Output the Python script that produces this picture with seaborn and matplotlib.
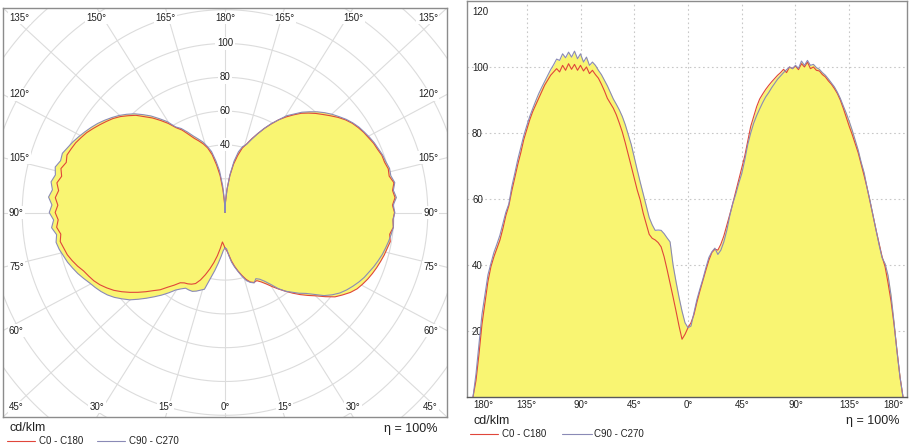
import numpy as np
import matplotlib
matplotlib.use("Agg")
import matplotlib.pyplot as plt
import seaborn as sns
from matplotlib.lines import Line2D

# ---------------- data (cd/klm vs gamma angle) ----------------
gamma = np.arange(0, 180.1, 2.5)

c0 = [21, 22.5, 25, 28.8, 32.2, 35.4, 38.5, 41.5, 43.8, 44.8,
      44.5, 46.3, 48.8, 52, 55.3, 58.7, 62.3, 65.9, 69.4, 73,
      77.5, 82, 85, 88, 90.3, 91.8, 93.2, 94.4, 95.5, 96.5,
      97.5, 98.3, 99.3, 98.3, 100, 99.5, 100.3, 99.2, 101, 100,
      101.5, 99.5, 100, 99, 98.8, 97.7, 97, 95.8, 94.8, 93.5,
      92, 90, 87.5, 84.7, 82, 79.5, 76.8, 74, 70.5, 67,
      63.3, 59, 54.8, 50.5, 46.5, 42.5, 39.5, 34.5, 29, 22,
      14, 6, 0]

c180 = [21, 19, 17.5, 21.5, 26, 30.3, 34.5, 38.6, 42.5, 45.5,
        46.8, 47.6, 48.1, 49.3, 52.5, 55.7, 59.7, 62.7, 66.3, 69.9,
        73.5, 77, 80.3, 83, 85.5, 87.5, 89, 90.5, 92.8, 94.8,
        96.6, 97.7, 99, 98, 100, 98.8, 100.5, 99, 100.8, 99.3,
        101, 99, 100.5, 98.5, 99.5, 98.5, 97.5, 96, 94.5, 92.5,
        90.5, 88.5, 86.5, 84, 81, 78, 74, 70.5, 66.5, 62.5,
        58, 55, 51, 47.5, 45, 42.5, 39.5, 35, 28.5, 22,
        13, 5, 0]

c90 = [21, 21.5, 25.5, 29.6, 32.8, 35.8, 39.2, 42.3, 44, 45.1,
       43.2, 44.5, 47, 50.5, 55, 58.7, 61.5, 64.8, 67.7, 71.8,
       76.5, 80, 83, 85.3, 87.3, 89.2, 90.9, 92.2, 93.7, 95,
       96.3, 97.3, 98.3, 99.2, 100, 99.5, 100.5, 99.6, 101.8, 100.5,
       102, 100.5, 100.8, 99.8, 99.3, 98.3, 97.5, 96.4, 95.2, 94,
       92.4, 90.5, 88.2, 86, 83.5, 80.8, 77.8, 74.8, 71.1, 67.9,
       63.3, 59.3, 54.9, 50.4, 46.1, 42.2, 40.4, 36.8, 30.8, 22.6,
       13.6, 6.1, 0]

c270 = [21, 22.5, 26, 30.2, 34.9, 40, 47, 48.2, 49.5, 50.5,
        50.6, 50.5, 52.2, 54.4, 58, 61.6, 65.1, 68.8, 72.6, 76.5,
        79.5, 82.5, 85, 87, 88.7, 90.3, 92.3, 94.3, 96, 97.7,
        99, 100.5, 101.5, 100.5, 103, 101.5, 104, 102.5, 104.8, 103,
        104.5, 102.8, 104, 102, 102.4, 100.7, 99.2, 97.4, 95.6, 93.8,
        91.9, 89.7, 87.4, 85, 82.2, 79.2, 75.6, 72, 67.8, 63.8,
        58.5, 56, 52.5, 49, 46.3, 43.8, 40.5, 37, 31, 25,
        16, 7, 0]

series_labels = ["C0 - C180", "C90 - C270"]
unit_label = "cd/klm"
eff_label = "\u03b7 = 100%"

polar_angles = [0, 15, 30, 45, 60, 75, 90, 105, 120, 135, 150, 165, 180]
ring_values = [20, 40, 60, 80, 100, 120, 140, 160, 180]
ring_labels = [40, 60, 80, 100]

lin_xticks = [-180, -135, -90, -45, 0, 45, 90, 135, 180]
lin_xticklabels = ["180°", "135°", "90°", "45°", "0°", "45°", "90°", "135°", "180°"]
lin_yticks = [20, 40, 60, 80, 100]
lin_ytop = 120

# ---------------- style ----------------
sns.set_style("white")
plt.rcParams['font.family'] = ['Liberation Sans', 'DejaVu Sans']

RED = '#E0463A'
BLUE = '#8A8AB6'
YELLOW = '#F9F572'
GRID = '#DCDCDC'
EDGE = '#8C8C8C'
TXT = '#222222'

W, H = 909, 446
fig = plt.figure(figsize=(W / 100, H / 100), dpi=100)

g = np.radians(gamma)
c0a, c180a, c90a, c270a = map(np.asarray, (c0, c180, c90, c270))

# ---------------- polar diagram (left) ----------------
axp = fig.add_axes([3 / W, (H - 417) / H, 444 / W, 409 / H])
S = 1.69  # px per cd/klm
X = 222 / S
Y = 204.5 / S
axp.set_xlim(-X, X)
axp.set_ylim(-Y, Y)
axp.set_xticks([])
axp.set_yticks([])
for sp in axp.spines.values():
    sp.set_color(EDGE)
    sp.set_linewidth(1)

t = np.linspace(0, 2 * np.pi, 721)
for r in ring_values:
    axp.plot(r * np.cos(t), r * np.sin(t), color=GRID, lw=0.8, zorder=1)

for ang in polar_angles:
    for side in (1, -1):
        if side == -1 and ang in (0, 180):
            continue
        a = np.radians(ang)
        dx = side * np.sin(a)
        dy = -np.cos(a)
        if abs(dx) < 1e-9:
            dx = 0.0
        m = max(abs(dx), abs(dy))
        ux, uy = dx / m, dy / m
        ex, ey = X * ux, Y * uy
        axp.plot([0, ex], [0, ey], color=GRID, lw=0.8, zorder=1)
        offx, offy, ha = 0, 0, 'center'
        if abs(abs(ux) - 1) < 1e-6:
            if ux < 0:
                offx, ha = 6, 'left'
            else:
                offx, ha = -9, 'right'
        if abs(abs(uy) - 1) < 1e-6:
            offy = -10 if uy > 0 else 10
        axp.annotate(f"{ang}°", xy=(ex, ey), xytext=(offx, offy),
                     textcoords='offset pixels', ha=ha, va='center',
                     fontsize=7, color=TXT, zorder=6,
                     bbox=dict(boxstyle='square,pad=0.15', fc='white', ec='none'))

# closed curves: right half C0 / C90, left half C180 / C270
px_r = np.concatenate([c0a * np.sin(g), -c180a[::-1] * np.sin(g[::-1])])
py_r = np.concatenate([-c0a * np.cos(g), -c180a[::-1] * np.cos(g[::-1])])
px_b = np.concatenate([c90a * np.sin(g), -c270a[::-1] * np.sin(g[::-1])])
py_b = np.concatenate([-c90a * np.cos(g), -c270a[::-1] * np.cos(g[::-1])])

axp.fill(px_r, py_r, color=YELLOW, lw=0, zorder=2)
axp.fill(px_b, py_b, color=YELLOW, lw=0, zorder=2)
sns.lineplot(x=px_r, y=py_r, sort=False, estimator=None, ax=axp,
             color=RED, lw=0.8, zorder=3, legend=False)
sns.lineplot(x=px_b, y=py_b, sort=False, estimator=None, ax=axp,
             color=BLUE, lw=0.8, zorder=3, legend=False)
axp.set_xlim(-X, X)
axp.set_ylim(-Y, Y)
axp.set_xlabel('')
axp.set_ylabel('')

for r in ring_labels:
    axp.text(0, r, str(r), ha='center', va='center', fontsize=7, color=TXT,
             zorder=6, bbox=dict(boxstyle='square,pad=0.15', fc='white', ec='none'))

# ---------------- linear diagram (right) ----------------
axl = fig.add_axes([467 / W, (H - 397) / H, 440 / W, 396 / H])
xl = np.concatenate([-gamma[::-1], gamma[1:]])
yr = np.concatenate([c180a[::-1], c0a[1:]])
yb = np.concatenate([c270a[::-1], c90a[1:]])

for v in lin_yticks:
    axl.axhline(v, color='#C8C8C8', lw=0.8, ls=(0, (1.5, 2.5)), zorder=0.5)
for v in lin_xticks[1:-1]:
    axl.axvline(v, color='#C8C8C8', lw=0.8, ls=(0, (1.5, 2.5)), zorder=0.5)

axl.fill_between(xl, yr, color=YELLOW, lw=0, zorder=1)
axl.fill_between(xl, yb, color=YELLOW, lw=0, zorder=1)
sns.lineplot(x=xl, y=yr, sort=False, estimator=None, ax=axl,
             color=RED, lw=0.8, zorder=2, legend=False)
sns.lineplot(x=xl, y=yb, sort=False, estimator=None, ax=axl,
             color=BLUE, lw=0.8, zorder=2, legend=False)

axl.set_xlim(-180 - 6 / 1.1944, 180 + 4 / 1.1944)
axl.set_ylim(0, lin_ytop)
axl.set_xlabel('')
axl.set_ylabel('')
axl.set_xticks(lin_xticks, lin_xticklabels)
axl.set_yticks(lin_yticks, [str(v) for v in lin_yticks])
axl.tick_params(axis='x', length=0, pad=2.5, labelsize=7, labelcolor=TXT)
axl.tick_params(axis='y', length=0, pad=-3.6, labelsize=7, labelcolor=TXT)
for lab in axl.get_yticklabels():
    lab.set_horizontalalignment('left')
xls = axl.get_xticklabels()
xls[0].set_horizontalalignment('left')
xls[-1].set_horizontalalignment('right')
# top value label sits just below the frame
axl.annotate(str(lin_ytop), xy=(0, lin_ytop), xycoords=axl.get_yaxis_transform(),
             xytext=(5, -11), textcoords='offset pixels', ha='left', va='center',
             fontsize=7, color=TXT)
for sp in axl.spines.values():
    sp.set_color(EDGE)
    sp.set_linewidth(1)
axl.spines['bottom'].set_color('#5a5a5a')

# ---------------- captions and legends ----------------
def fx(px):
    return px / W


def fy(py):
    return 1 - py / H


def caption(x_unit, y_unit, x_eff, y_eff, y_leg, x_l1, x_l2):
    fig.text(fx(x_unit), fy(y_unit), unit_label, ha='left', va='center',
             fontsize=9, color=TXT)
    fig.text(fx(x_eff), fy(y_eff), eff_label, ha='right', va='center',
             fontsize=9, color=TXT)
    for (xa, xb, xt), col, lab in zip((x_l1, x_l2), (RED, BLUE), series_labels):
        fig.add_artist(Line2D([fx(xa), fx(xb)], [fy(y_leg), fy(y_leg)],
                              color=col, lw=0.8))
        fig.text(fx(xt), fy(y_leg), lab, ha='left', va='center',
                 fontsize=7, color=TXT)


caption(10, 428, 437, 429, 441, (7, 35, 39), (97, 125, 129))
caption(473, 421.5, 900, 421, 434, (470, 498, 502), (562, 592, 594))

fig.savefig("out.png", dpi=100)
